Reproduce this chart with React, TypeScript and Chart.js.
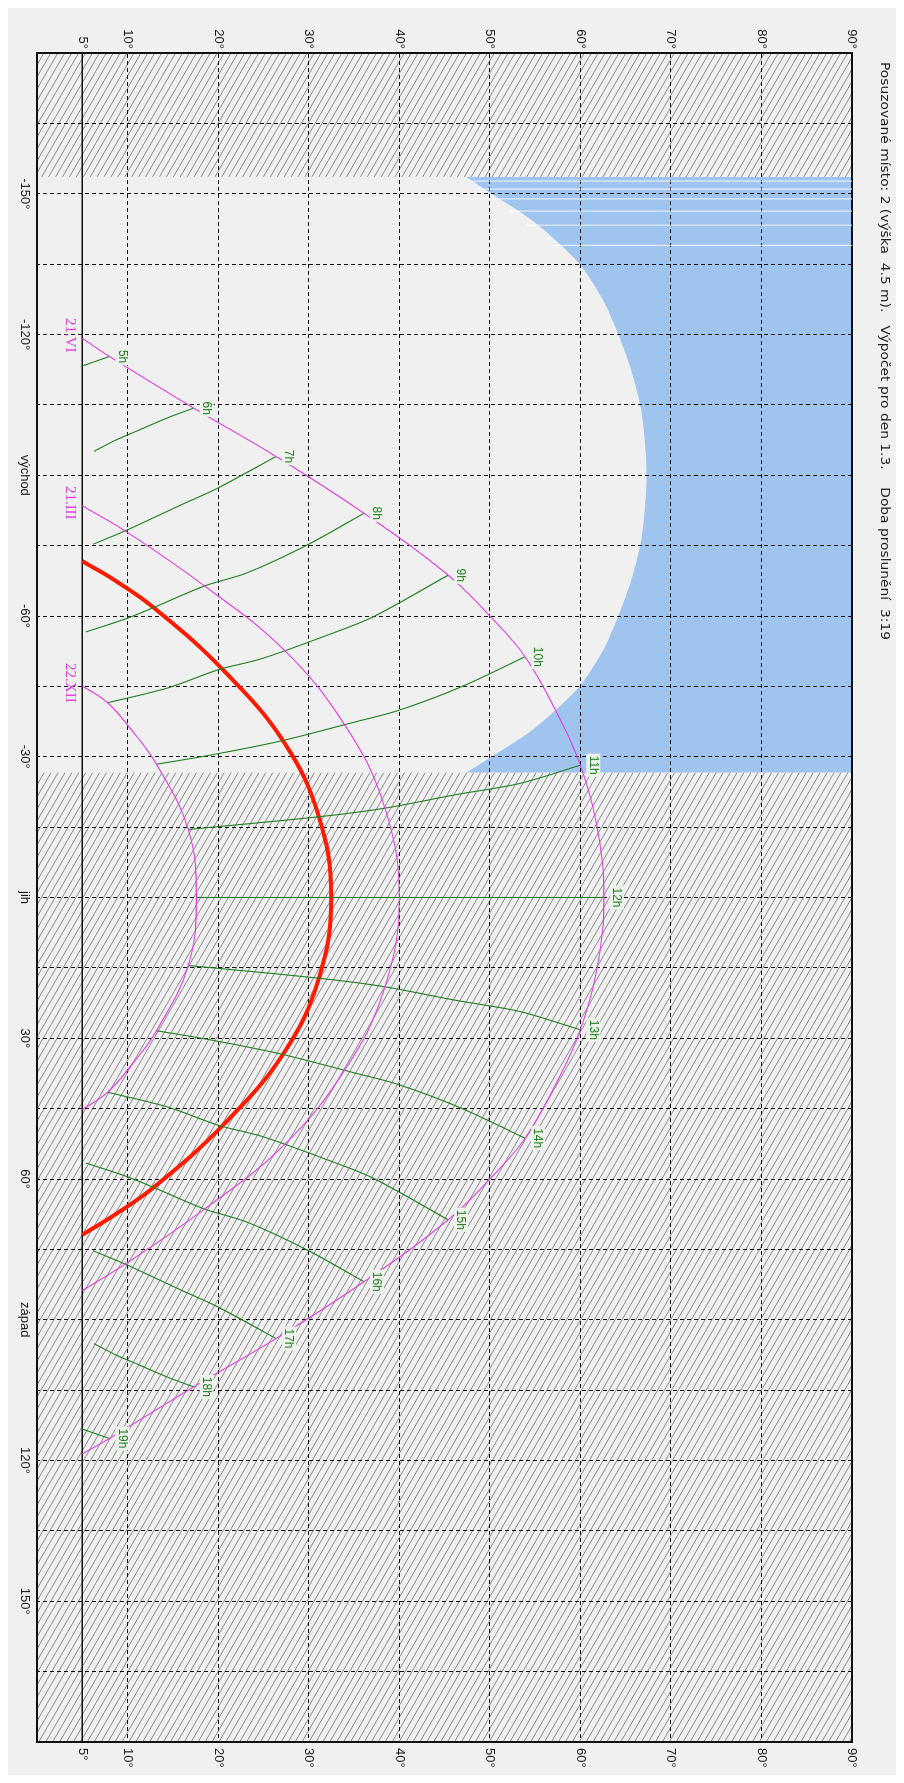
import React, { useEffect, useRef } from 'react';
import { Chart, registerables } from 'chart.js';

Chart.register(...registerables);

// canvas is drawn unrotated (azimuth horizontal) and then turned 90° clockwise
const CW = 1767;
const CH = 888;

const TITLE = 'Posuzované místo: 2 (výška  4.5 m).   Výpočet pro den 1.3.    Doba proslunění  3:19';

const AZ_GRID = [-180, -165, -150, -135, -120, -105, -90, -75, -60, -45, -30, -15, 0, 15, 30, 45, 60, 75, 90, 105, 120, 135, 150, 165, 180];
const AZ_LABEL_VALUES = [-150, -120, -90, -60, -30, 0, 30, 60, 90, 120, 150];
const AZ_LABEL_TEXT = ['-150°', '-120°', 'východ', '-60°', '-30°', 'jih', '30°', '60°', 'západ', '120°', '150°'];
const EL_TICKS = [0, 5, 10, 20, 30, 40, 50, 60, 70, 80, 90];

// hatched (no view) azimuth ranges
const HATCH_FROM = [-180, -26.6];
const HATCH_TO = [-153.6, 180];

// blue obstruction: boundary elevation per azimuth, filled up to 90°
const OBST_AZ = [-153.6, -150, -145, -140, -135, -130, -125, -120, -112.5, -105, -97.5, -90, -82.5, -75, -67.5, -60, -55, -50, -45, -40, -35, -30, -26.6];
const OBST_EL = [47.4, 50.2, 54.2, 57.3, 59.9, 61.7, 63.1, 64.2, 65.6, 66.6, 67.1, 67.3, 67.1, 66.6, 65.6, 64.2, 63.1, 61.7, 59.9, 57.3, 54.2, 50.2, 47.4];
const STREAK_AZ = [-152.7, -151.0, -148.9, -146.3, -143.3, -139.0];
const STREAK_EL = [47.9, 48.6, 50.1, 52.2, 54.0, 56.9];

// sun paths
const JUN_AZ = [-119.2, -115.3, -104.3, -94.0, -81.9, -68.7, -59.8, -51.3, -39.4, -28.2, -13.3, 0, 13.3, 28.2, 39.4, 51.3, 59.8, 68.7, 81.9, 94.0, 104.3, 115.3, 118.6];
const JUN_EL = [5.0, 8.0, 17.3, 26.4, 36.1, 45.4, 50.1, 53.9, 57.4, 60.0, 62.0, 62.6, 62.0, 60.0, 57.4, 53.9, 50.1, 45.4, 36.1, 26.4, 17.3, 8.0, 5.0];
const MAR_AZ = [-83.5, -77.8, -66.4, -52.9, -37.0, -19.8, 0, 19.8, 37.0, 52.9, 66.4, 77.8, 83.8];
const MAR_EL = [5.0, 10.0, 18.5, 27.2, 33.9, 38.3, 40.0, 38.3, 33.9, 27.2, 18.5, 10.0, 5.0];
const DEC_AZ = [-45.1, -41.5, -35.3, -28.4, -14.5, 0, 14.5, 28.4, 35.3, 41.5, 45.2];
const DEC_EL = [5.0, 7.8, 10.6, 13.2, 16.7, 17.6, 16.7, 13.2, 10.6, 7.8, 5.0];
const DAY_AZ = [-71.7, -67.6, -61.6, -48.6, -33.3, -17.4, 0, 17.4, 33.3, 48.6, 61.6, 67.6, 71.9];
const DAY_EL = [5.0, 8.6, 13.0, 20.5, 27.2, 31.1, 32.5, 31.1, 27.2, 20.5, 13.0, 8.6, 5.0];

const DATE_LABELS = ['21.VI', '21.III', '22.XII'];

// hour lines, first point lies on the 21.VI path
const HOUR_LABELS = ['5h', '6h', '7h', '8h', '9h', '10h', '11h', '12h', '13h', '14h', '15h', '16h', '17h', '18h', '19h'];
const HOUR_AZ = [
  [-115.3, -113.3],
  [-104.3, -102.3, -99.4, -97.4, -95.1],
  [-94.0, -87.2, -83.5, -78.2, -75.3],
  [-81.9, -75.3, -69.2, -66.4, -61.9, -59.4, -56.6],
  [-68.7, -59.8, -55.8, -50.9, -48.6, -44.7, -41.5],
  [-51.3, -44.7, -39.8, -37.4, -33.3, -30.4, -28.4],
  [-28.2, -24.3, -21.9, -19.0, -17.2, -14.5],
  [0, 0],
  [28.2, 24.3, 21.9, 19.0, 17.2, 14.5],
  [51.3, 44.7, 39.8, 37.4, 33.3, 30.4, 28.4],
  [68.7, 59.8, 55.8, 50.9, 48.6, 44.7, 41.5],
  [81.9, 75.3, 69.2, 66.4, 61.9, 59.4, 56.6],
  [94.0, 87.2, 83.5, 78.2, 75.3],
  [104.3, 102.3, 99.4, 97.4, 95.1],
  [115.3, 113.3],
];
const HOUR_EL = [
  [8.0, 5.0],
  [17.3, 14.5, 11.0, 8.6, 6.3],
  [26.4, 19.9, 15.7, 9.8, 6.2],
  [36.1, 30.0, 23.2, 18.5, 13.0, 9.8, 5.4],
  [45.4, 37.1, 31.9, 24.8, 20.1, 14.5, 7.8],
  [53.9, 46.6, 39.8, 35.1, 26.8, 19.3, 13.2],
  [60.0, 53.3, 46.2, 38.3, 31.1, 16.7],
  [62.6, 17.6],
  [60.0, 53.3, 46.2, 38.3, 31.1, 16.7],
  [53.9, 46.6, 39.8, 35.1, 26.8, 19.3, 13.2],
  [45.4, 37.1, 31.9, 24.8, 20.1, 14.5, 7.8],
  [36.1, 30.0, 23.2, 18.5, 13.0, 9.8, 5.4],
  [26.4, 19.9, 15.7, 9.8, 6.2],
  [17.3, 14.5, 11.0, 8.6, 6.3],
  [8.0, 5.0],
];

const MAGENTA = '#e33be3';
const GREEN = '#1f7f1f';
const SANS = '"Liberation Sans", Arial, sans-serif';

const pts = (az: number[], el: number[]) => az.map((a, i) => ({ x: a, y: el[i] }));

const hatchPlugin = {
  id: 'hatch',
  beforeDraw(chart: any) {
    const { ctx, chartArea: a, scales } = chart;
    const x = scales.x;
    const ang = (60 * Math.PI) / 180;
    const t = Math.tan(ang);
    const h = a.bottom - a.top;
    const step = 12;
    ctx.save();
    HATCH_FROM.forEach((from, i) => {
      const l = x.getPixelForValue(from);
      const r = x.getPixelForValue(HATCH_TO[i]);
      ctx.save();
      ctx.beginPath();
      ctx.rect(l, a.top, r - l, h);
      ctx.clip();
      ctx.strokeStyle = '#8a8a8a';
      ctx.lineWidth = 1;
      ctx.beginPath();
      const base = a.left - h * t;
      for (let s = base; s < a.right + 2; s += step) {
        ctx.moveTo(s, a.top);
        ctx.lineTo(s + h * t, a.bottom);
      }
      ctx.stroke();
      ctx.restore();
    });
    ctx.restore();
  },
};

const labelPlugin = {
  id: 'labels',
  afterDatasetsDraw(chart: any) {
    const { ctx, scales } = chart;
    const x = scales.x;
    const y = scales.y;
    ctx.save();
    // hour labels at the 21.VI end of each hour line
    ctx.font = `12px ${SANS}`;
    ctx.textAlign = 'center';
    ctx.textBaseline = 'middle';
    HOUR_LABELS.forEach((lab, i) => {
      const px = x.getPixelForValue(HOUR_AZ[i][0]);
      const py = y.getPixelForValue(HOUR_EL[i][0]) - 13;
      const w = ctx.measureText(lab).width + 4;
      ctx.fillStyle = '#eef2ec';
      ctx.fillRect(px - w / 2, py - 7, w, 14);
      ctx.fillStyle = GREEN;
      ctx.fillText(lab, px, py + 0.5);
    });
    // date labels under the morning end of each path
    ctx.font = '15px "Liberation Serif", "Times New Roman", serif';
    ctx.fillStyle = MAGENTA;
    const starts = [JUN_AZ[0], MAR_AZ[0], DEC_AZ[0]];
    DATE_LABELS.forEach((lab, i) => {
      const px = x.getPixelForValue(starts[i]) - 3;
      const py = y.getPixelForValue(3.6);
      ctx.fillText(lab, px, py);
    });
    ctx.restore();
  },
  afterDraw(chart: any) {
    const { ctx } = chart;
    ctx.save();
    ctx.font = '13px "DejaVu Sans", sans-serif';
    ctx.fillStyle = '#1e1e1e';
    ctx.textAlign = 'left';
    ctx.textBaseline = 'middle';
    const target = 578;
    const w = ctx.measureText(TITLE).width;
    ctx.translate(54, 12);
    ctx.scale(target / w, 1);
    ctx.fillText(TITLE, 0, 0);
    ctx.restore();
  },
};

export default function App() {
  const ref = useRef<HTMLCanvasElement>(null);

  useEffect(() => {
    if (!ref.current) return;
    const thin = (data: any[], color: string, width = 1, tension = 0.35) => ({
      data,
      showLine: true,
      borderColor: color,
      borderWidth: width,
      pointRadius: 0,
      fill: false,
      tension,
    });
    const datasets: any[] = [
      {
        data: pts(OBST_AZ, OBST_EL),
        showLine: true,
        borderWidth: 0,
        borderColor: 'rgba(0,0,0,0)',
        backgroundColor: '#9fc4ee',
        pointRadius: 0,
        fill: 'end',
        tension: 0.3,
      },
      ...STREAK_AZ.map((a, i) => thin([{ x: a, y: STREAK_EL[i] }, { x: a, y: 90 }], 'rgba(255,255,255,0.85)', 1, 0)),
      thin(pts(JUN_AZ, JUN_EL), MAGENTA, 1.1, 0.4),
      thin(pts(MAR_AZ, MAR_EL), MAGENTA, 1.1, 0.4),
      thin(pts(DEC_AZ, DEC_EL), MAGENTA, 1.1, 0.4),
      ...HOUR_AZ.map((az, i) => thin(pts(az, HOUR_EL[i]), GREEN, 1.1, 0.3)),
      thin(pts(DAY_AZ, DAY_EL), '#ff1a00', 4, 0.4),
    ];

    const tickFont = { family: SANS, size: 13 };
    const chart = new Chart(ref.current, {
      type: 'scatter',
      data: { datasets },
      options: {
        animation: false,
        responsive: false,
        maintainAspectRatio: false,
        events: [],
        layout: { padding: 0 },
        plugins: {
          legend: { display: false },
          tooltip: { enabled: false },
          filler: { drawTime: 'beforeDraw' },
        } as any,
        scales: {
          x: {
            type: 'linear',
            position: 'bottom',
            min: -180,
            max: 180,
            afterBuildTicks: (s: any) => {
              s.ticks = AZ_GRID.map((v) => ({ value: v }));
            },
            afterFit: (s: any) => {
              s.height = 29;
            },
            ticks: {
              autoSkip: false,
              maxRotation: 0,
              minRotation: 0,
              padding: 5,
              color: '#1a1a1a',
              font: tickFont,
              callback: (v: any) => {
                const k = AZ_LABEL_VALUES.indexOf(Number(v));
                return k >= 0 ? AZ_LABEL_TEXT[k] : '';
              },
            },
            grid: { color: '#111', lineWidth: 1, drawTicks: false },
            border: { display: true, color: '#111', width: 2, dash: [4, 3] },
          },
          x2: {
            type: 'linear',
            position: 'top',
            min: -180,
            max: 180,
            afterFit: (s: any) => {
              s.height = 44;
            },
            ticks: { display: false },
            grid: { display: false, drawTicks: false },
            border: { display: true, color: '#111', width: 2 },
          },
          y: {
            type: 'linear',
            position: 'left',
            min: 0,
            max: 90,
            afterBuildTicks: (s: any) => {
              s.ticks = EL_TICKS.map((v) => ({ value: v }));
            },
            afterFit: (s: any) => {
              s.width = 45;
            },
            ticks: {
              autoSkip: false,
              padding: 4,
              color: '#1a1a1a',
              font: tickFont,
              callback: (v: any) => (Number(v) === 0 ? '' : `${v}°`),
            },
            grid: {
              color: '#111',
              lineWidth: (c: any) => (c.tick && c.tick.value === 5 ? 1.4 : 1),
              drawTicks: false,
            },
            border: {
              display: true,
              color: '#111',
              width: 2,
              dash: (c: any) => (c.tick && c.tick.value === 5 ? [] : [4, 3]),
            },
          },
          y2: {
            type: 'linear',
            position: 'right',
            min: 0,
            max: 90,
            afterBuildTicks: (s: any) => {
              s.ticks = EL_TICKS.map((v) => ({ value: v }));
            },
            afterFit: (s: any) => {
              s.width = 33;
            },
            ticks: {
              autoSkip: false,
              padding: 6,
              color: '#1a1a1a',
              font: tickFont,
              callback: (v: any) => (Number(v) === 0 ? '' : `${v}°`),
            },
            grid: { display: false, drawTicks: false },
            border: { display: true, color: '#111', width: 2 },
          },
        } as any,
      },
      plugins: [hatchPlugin, labelPlugin],
    });
    return () => chart.destroy();
  }, []);

  return (
    <div style={{ position: 'relative', width: 888, height: 1767, background: '#f0f0f0', overflow: 'hidden' }}>
      <div
        style={{
          position: 'absolute',
          left: 0,
          top: 0,
          width: CW,
          height: CH,
          transformOrigin: '0 0',
          transform: 'translate(888px, 0) rotate(90deg)',
        }}
      >
        <canvas ref={ref} width={CW} height={CH} style={{ display: 'block', width: CW, height: CH }} />
      </div>
    </div>
  );
}
